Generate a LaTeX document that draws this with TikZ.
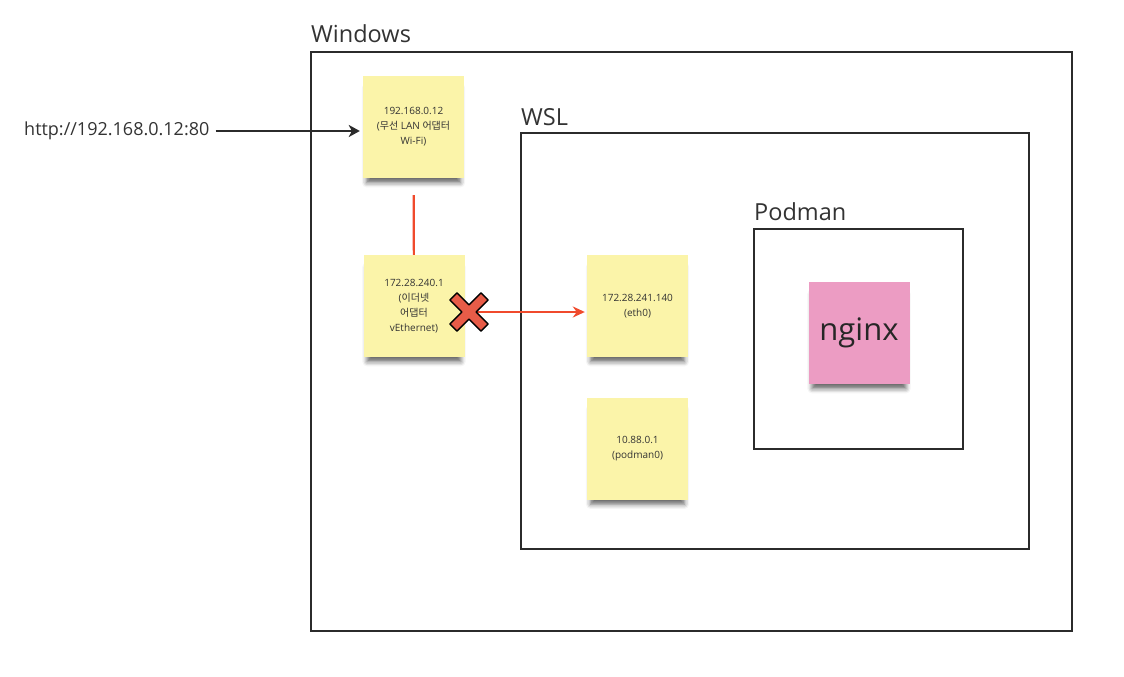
\documentclass[tikz,border=0pt]{standalone}
\usepackage{fontspec}
\setmainfont{Open Sans}
\newfontfamily\krfont{Noto Sans CJK KR}
\newcommand{\ko}[1]{{\krfont #1}}
\usetikzlibrary{arrows.meta,shadows.blur}

\definecolor{frameline}{HTML}{2B2B2B}
\definecolor{notey}{HTML}{FBF4A9}
\definecolor{notepink}{HTML}{EC9CC3}
\definecolor{linered}{HTML}{F04A2C}
\definecolor{xred}{HTML}{E85C48}
\definecolor{textgray}{HTML}{333333}

\tikzset{
  frame/.style={draw=frameline, line width=2.2pt},
  boxlabel/.style={anchor=base west, inner sep=0pt, text=textgray, font=\fontsize{23.5}{23.5}\selectfont},
  note/.style={fill=notey, minimum width=101pt, minimum height=102pt, inner sep=0pt, align=center,
    text=textgray, font=\fontsize{10}{15}\selectfont,
    blur shadow={shadow xshift=0pt, shadow yshift=-9pt, shadow scale=0.93, shadow opacity=60, shadow blur radius=5pt}},
  redline/.style={draw=linered, line width=2.2pt},
}

\begin{document}
\begin{tikzpicture}[x=1pt,y=-1pt]
\useasboundingbox (0,0) rectangle (1124,677);

% boxes
\draw[frame] (311,52) rectangle (1072,631);
\draw[frame] (521,133) rectangle (1029,549);
\draw[frame] (754,229) rectangle (963,449);
\node[boxlabel] (winlabel) at (311,43) {Windows};
\node[boxlabel] (wsllabel) at (521,125) {WSL};
\node[boxlabel] (podlabel) at (754,220) {Podman};

% sticky notes
\node[note] (wifi) at (413.5,127) {192.168.0.12\\(\ko{무선} LAN \ko{어댑터}\\Wi-Fi)};
\node[note] (veth) at (414,306) {172.28.240.1\\(\ko{이더넷}\\\ko{어댑터}\\vEthernet)};
\node[note] (eth0) at (637.5,306) {172.28.241.140\\(eth0)};
\node[note] (podman0) at (637.5,448.5) {10.88.0.1\\(podman0)};
\node[note, fill=notepink, font=\fontsize{31}{31}\selectfont, text=black!85] (nginx) at (859,333) {nginx};

% request
\node[anchor=west, inner sep=0pt, text=textgray, font=\fontsize{18}{18}\selectfont] (url) at (24,131) {http://192.168.0.12:80};
\draw[draw=frameline, line width=2.2pt, -{Stealth[length=11pt,width=12pt,inset=3pt]}, shorten <=6pt, shorten >=3pt] (url.east) -- (url.east -| wifi.west);

% links
\draw[redline, shorten <=17pt] (wifi) -- (veth);
\coordinate (xmark) at (469,312);
\draw[redline, -{Stealth[length=12pt,width=11pt]}, shorten >=2pt] (xmark) -- (xmark -| eth0.west);
\begin{scope}[shift={(xmark)}, rotate=45]
  \draw[fill=xred, draw=black, line width=1.5pt, line join=round]
    (5,22) -- (5,5) -- (22,5) -- (22,-5) -- (5,-5) -- (5,-22) -- (-5,-22) -- (-5,-5)
    -- (-22,-5) -- (-22,5) -- (-5,5) -- (-5,22) -- cycle;
\end{scope}
\end{tikzpicture}
\end{document}
